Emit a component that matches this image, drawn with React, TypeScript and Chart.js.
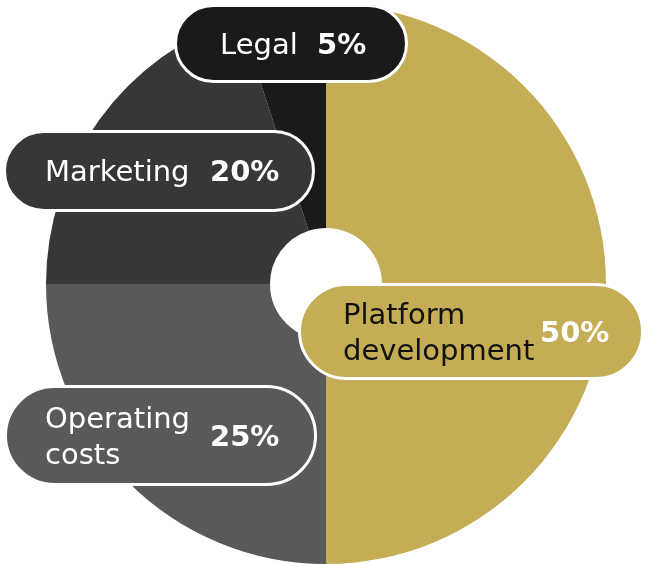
import React, { useEffect, useRef } from "react";
import { Chart, registerables } from "chart.js";

Chart.register(...registerables);

const categories = ["Platform development", "Operating costs", "Marketing", "Legal"];
const labelLines = [["Platform", "development"], ["Operating", "costs"], ["Marketing"], ["Legal"]];
const values = [50, 25, 20, 5];
const sliceColors = ["#C4AD55", "#595959", "#373737", "#1A1A1A"];
const textColors = ["#111111", "#FFFFFF", "#FFFFFF", "#FFFFFF"];
const pctColors = ["#FFFFFF", "#FFFFFF", "#FFFFFF", "#FFFFFF"];

// pill boxes relative to chart center: [left, top, right, bottom, textLeft, pctLeft]
const pillLayout = [
  [-28, -1, 318, 96, 17, 214],
  [-322, 101, -9, 202, -281, -116],
  [-323, -154, -11, -72, -281, -116],
  [-152, -280, 82, -201, -106, -9],
];

const FONT = "'DejaVu Sans', sans-serif";

const pillPlugin = {
  id: "pills",
  afterDatasetsDraw(chart: any) {
    const meta = chart.getDatasetMeta(0);
    const arc = meta.data[0];
    const cx = arc.x;
    const cy = arc.y;
    const ctx = chart.ctx;
    ctx.save();
    values.forEach((v, i) => {
      const [l, t, r, b, tx, px] = pillLayout[i];
      const x0 = cx + l + 1.5;
      const y0 = cy + t + 1.5;
      const x1 = cx + r - 1.5;
      const y1 = cy + b - 1.5;
      const h = y1 - y0;
      const rad = h / 2;
      ctx.beginPath();
      ctx.moveTo(x0 + rad, y0);
      ctx.lineTo(x1 - rad, y0);
      ctx.arc(x1 - rad, y0 + rad, rad, -Math.PI / 2, Math.PI / 2);
      ctx.lineTo(x0 + rad, y1);
      ctx.arc(x0 + rad, y0 + rad, rad, Math.PI / 2, (3 * Math.PI) / 2);
      ctx.closePath();
      ctx.fillStyle = sliceColors[i];
      ctx.fill();
      ctx.lineWidth = 3;
      ctx.strokeStyle = "#FFFFFF";
      ctx.stroke();

      const midY = (y0 + y1) / 2;
      const lines = labelLines[i];
      ctx.textBaseline = "alphabetic";
      ctx.textAlign = "left";
      ctx.font = `normal 29px ${FONT}`;
      ctx.fillStyle = textColors[i];
      lines.forEach((ln, k) => {
        const by = midY + 10 + (k - (lines.length - 1) / 2) * 36;
        ctx.fillText(ln, cx + tx, by);
      });
      ctx.font = `bold 29px ${FONT}`;
      ctx.fillStyle = pctColors[i];
      ctx.fillText(`${v}%`, cx + px, midY + 10);
    });
    ctx.restore();
  },
};

export default function App() {
  const ref = useRef<HTMLCanvasElement>(null);
  useEffect(() => {
    if (!ref.current) return;
    const chart = new Chart(ref.current, {
      type: "doughnut",
      data: {
        labels: categories,
        datasets: [
          {
            data: values,
            backgroundColor: sliceColors,
            borderWidth: 0,
          },
        ],
      },
      options: {
        animation: false,
        responsive: false,
        cutout: "20%",
        layout: { padding: { left: 4, right: 0, top: 4, bottom: 0 } },
        plugins: {
          legend: { display: false },
          tooltip: { enabled: false },
        },
      },
      plugins: [pillPlugin],
    });
    return () => chart.destroy();
  }, []);
  return (
    <div style={{ position: "fixed", left: 0, top: 0, width: 648, height: 564, background: "#fff" }}>
      <canvas ref={ref} width={648} height={564} style={{ display: "block" }} />
    </div>
  );
}
